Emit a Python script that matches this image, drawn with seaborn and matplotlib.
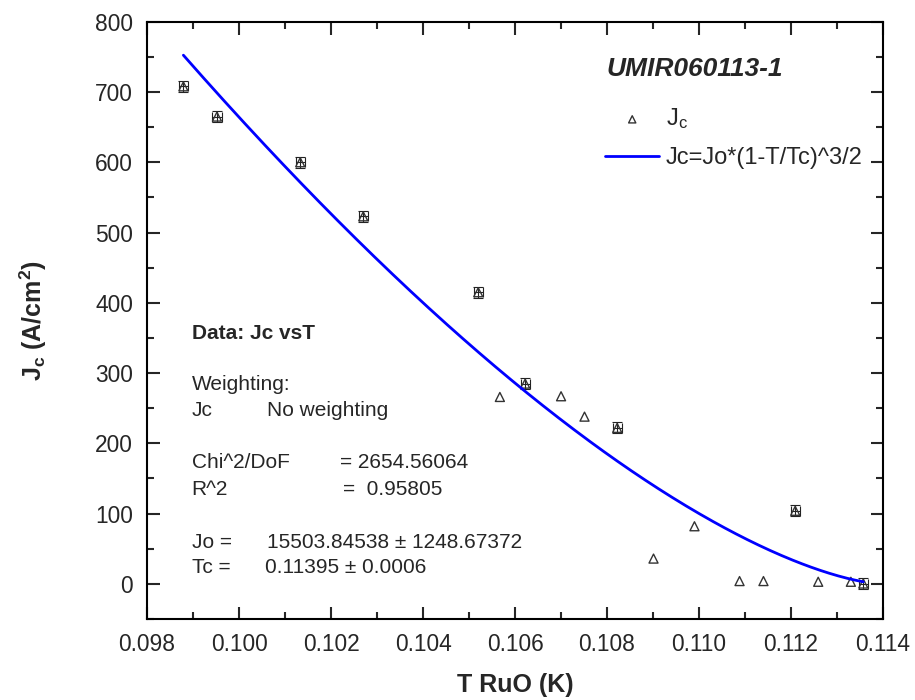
import numpy as np
import pandas as pd
import seaborn as sns
import matplotlib.pyplot as plt
from matplotlib.ticker import MultipleLocator, FormatStrFormatter

# Datos
temp = [0.09879, 0.09952, 0.10133, 0.10270, 0.10520, 0.10567, 0.10622, 0.10700, 0.10751,
        0.10822, 0.10901, 0.10990, 0.11088, 0.11140, 0.11209, 0.11259, 0.11330, 0.11357]
jc = [708, 665, 600, 523, 415, 266, 285, 267, 238,
      222, 36, 82, 4, 4, 104, 3, 3, 0.5]
# barras de error (solo algunos puntos las tienen)
jc_err = [8, 8, 8, 8, 8, 0, 8, 0, 0, 8, 0, 0, 0, 0, 8, 0, 0, 8]
temp_err = [0.0001, 0.0001, 0.0001, 0.0001, 0.0001, 0, 0.0001, 0, 0,
            0.0001, 0, 0, 0, 0, 0.0001, 0, 0, 0.0001]

# parametros del ajuste
jo = 15503.84538
jo_err = 1248.67372
tc = 0.11395
tc_err = 0.0006
chi2 = 2654.56064
r2 = 0.95805

sns.set_style("ticks")
plt.rcParams["font.family"] = ["Liberation Sans", "DejaVu Sans"]
plt.rcParams["mathtext.fontset"] = "custom"
plt.rcParams["mathtext.rm"] = "Liberation Sans"
plt.rcParams["mathtext.bf"] = "Liberation Sans:bold"
plt.rcParams["mathtext.it"] = "Liberation Sans:italic"

df = pd.DataFrame({"T": temp, "Jc": jc, "dJ": jc_err, "dT": temp_err})

fig = plt.figure(figsize=(9.15, 7), dpi=100)
ax = fig.add_axes([0.1607, 0.1157, 0.8044, 0.8533])

# Barras de error
conerr = df[df["dJ"] > 0]
ax.errorbar(conerr["T"], conerr["Jc"], xerr=conerr["dT"], yerr=conerr["dJ"], fmt="none",
            ecolor="#222222", elinewidth=0.8, capsize=3.5, capthick=0.8, zorder=2)

# Puntos
sns.scatterplot(data=df, x="T", y="Jc", marker="^", s=42, facecolors="none",
                edgecolor="#333333", linewidth=1, label=r"J$_\mathregular{c}$", ax=ax, zorder=3)

# Curva de ajuste Jc = Jo*(1-T/Tc)^3/2
fit = pd.DataFrame({"T": np.linspace(temp[0], temp[-1], 300)})
fit["Jc"] = jo * (1 - fit["T"] / tc) ** 1.5
sns.lineplot(data=fit, x="T", y="Jc", color="#0000ff", linewidth=2, sort=False,
             estimator=None, label="Jc=Jo*(1-T/Tc)^3/2", ax=ax, zorder=4)

ax.set_xlim(0.098, 0.114)
ax.set_ylim(-50, 800)
ax.xaxis.set_major_locator(MultipleLocator(0.002))
ax.xaxis.set_minor_locator(MultipleLocator(0.001))
ax.xaxis.set_major_formatter(FormatStrFormatter("%.3f"))
ax.yaxis.set_major_locator(MultipleLocator(100))
ax.yaxis.set_minor_locator(MultipleLocator(50))
ax.tick_params(which="both", direction="in", top=True, right=True, width=1.5)
ax.tick_params(which="major", length=9, labelsize=16.4, pad=10)
ax.tick_params(which="minor", length=5)
for s in ax.spines.values():
    s.set_linewidth(1.5)
    s.set_color("black")

ax.set_xlabel("T RuO (K)", fontsize=18, fontweight="bold", labelpad=12)
ax.set_ylabel(r"J$_\mathbf{c}$ (A/cm$^\mathbf{2}$)", fontsize=18, fontweight="bold", labelpad=33)

ax.legend(loc="upper left", bbox_to_anchor=(0.6223, 0.858), fontsize=17, frameon=False,
          borderpad=0, borderaxespad=0, handlelength=2.3, handletextpad=0.26,
          labelspacing=0.65, markerscale=0.8)

ax.text(0.6236, 0.9083, "UMIR060113-1", transform=ax.transAxes, fontsize=19,
        fontweight="bold", fontstyle="italic", va="baseline")

# Resultados del ajuste
fs = 15
ax.text(0.0607, 0.4688, "Data: Jc vsT", transform=ax.transAxes, fontsize=fs, fontweight="bold", va="baseline")
ax.text(0.0607, 0.3834, "Weighting:", transform=ax.transAxes, fontsize=fs, va="baseline")
ax.text(0.0607, 0.3399, "Jc", transform=ax.transAxes, fontsize=fs, va="baseline")
ax.text(0.1626, 0.3399, "No weighting", transform=ax.transAxes, fontsize=fs, va="baseline")
ax.text(0.0607, 0.2520, "Chi^2/DoF", transform=ax.transAxes, fontsize=fs, va="baseline")
ax.text(0.2622, 0.2520, f"= {chi2:.5f}", transform=ax.transAxes, fontsize=fs, va="baseline")
ax.text(0.0607, 0.2076, "R^2", transform=ax.transAxes, fontsize=fs, va="baseline")
ax.text(0.2659, 0.2076, f"=  {r2:.5f}", transform=ax.transAxes, fontsize=fs, va="baseline")
ax.text(0.0607, 0.1197, "Jo =", transform=ax.transAxes, fontsize=fs, va="baseline")
ax.text(0.1626, 0.1197, f"{jo:.5f} \u00b1 {jo_err:.5f}", transform=ax.transAxes, fontsize=fs, va="baseline")
ax.text(0.0607, 0.0778, "Tc =", transform=ax.transAxes, fontsize=fs, va="baseline")
ax.text(0.1603, 0.0778, f"{tc:.5f} \u00b1 {tc_err}", transform=ax.transAxes, fontsize=fs, va="baseline")

fig.savefig("out.png", dpi=100)
